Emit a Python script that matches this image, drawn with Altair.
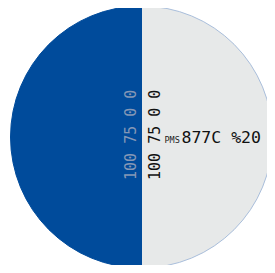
import altair as alt
import pandas as pd

# Data
slices = ["tint", "solid"]
shares = [50, 50]
fills = ["#e7e9e9", "#004b9b"]
strokes = ["#a9bedb", "#004b9b"]
cmyk_label = "100 75 0 0"
pms_prefix = "PMS"
pms_code = "877C"
tint_label = "%20"

pie_df = pd.DataFrame({"slice": slices, "share": shares, "idx": list(range(len(slices)))})

cx, cy, r = 133.5, 129, 131

pie = alt.Chart(pie_df).mark_arc(strokeWidth=1).encode(
    theta=alt.Theta("share:Q", stack=True),
    order=alt.Order("idx:O"),
    color=alt.Color("slice:N", scale=alt.Scale(domain=slices, range=fills), legend=None),
    stroke=alt.Stroke("slice:N", scale=alt.Scale(domain=slices, range=strokes), legend=None),
    x=alt.value(cx),
    y=alt.value(cy),
    radius=alt.value(r),
)

lbl_df = pd.DataFrame({"t": [cmyk_label]})
gray_vert = alt.Chart(lbl_df).mark_text(
    angle=270, align="center", baseline="alphabetic", font="DejaVu Sans Mono",
    fontSize=15, color="#8497b6"
).encode(text="t:N", x=alt.value(127.7), y=alt.value(126.8))

black_vert = alt.Chart(lbl_df).mark_text(
    angle=270, align="center", baseline="alphabetic", font="DejaVu Sans Mono",
    fontSize=15, color="#111111"
).encode(text="t:N", x=alt.value(152), y=alt.value(126.8))

prefix = alt.Chart(pd.DataFrame({"t": [pms_prefix]})).mark_text(
    align="left", baseline="alphabetic", font="DejaVu Sans Mono", fontSize=8.5, color="#222222"
).encode(text="t:N", x=alt.value(156.5), y=alt.value(135))

code = alt.Chart(pd.DataFrame({"t": [pms_code + " " + tint_label]})).mark_text(
    align="left", baseline="alphabetic", font="DejaVu Sans Mono", fontSize=16.5, color="#111111"
).encode(text="t:N", x=alt.value(173.5), y=alt.value(135))

chart = alt.layer(pie, gray_vert, black_vert, prefix, code).properties(
    width=259, height=257, autosize=alt.AutoSizeParams(type="none"), padding=0
).configure_view(strokeWidth=0)

chart.save("out.html", embed_options={"renderer": "svg", "actions": False})
